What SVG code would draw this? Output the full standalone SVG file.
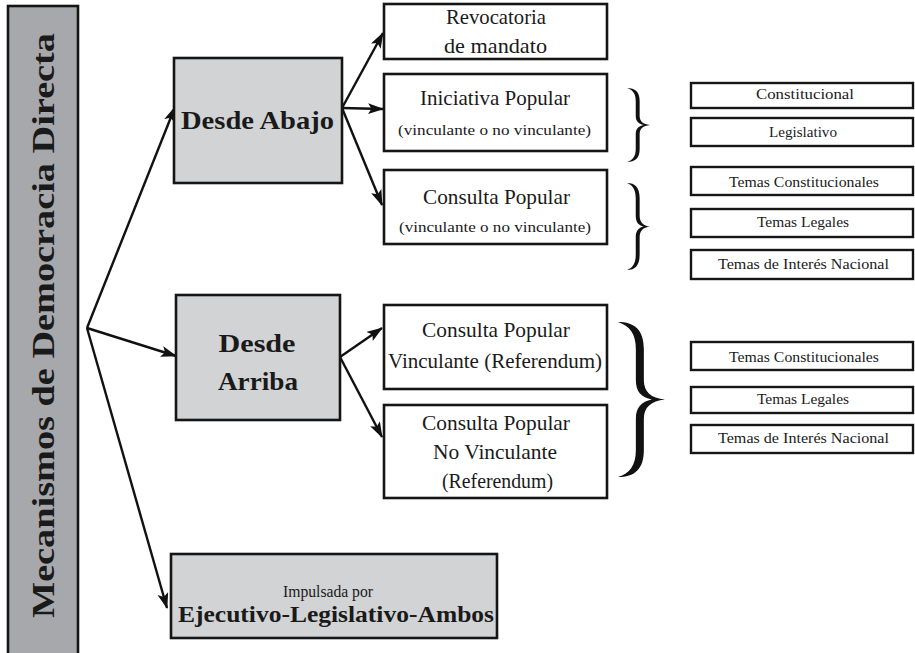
<svg xmlns="http://www.w3.org/2000/svg" width="915" height="653" viewBox="0 0 915 653">
<style>
.box{fill:#ffffff;stroke:#151515;stroke-width:2.6}
.gbox{fill:#d2d3d5;stroke:#151515;stroke-width:2.6}
.dbox{fill:#a7a8ab;stroke:#151515;stroke-width:2.6}
.sbox{fill:#ffffff;stroke:#151515;stroke-width:2.4}
text{font-family:"Liberation Serif","Times New Roman",serif}
.t{fill:#1a1a1a;text-anchor:middle}
.b{font-weight:bold;fill:#1a1a1a;text-anchor:middle}
.m{font-size:22px}
.s{font-size:15.5px}
.r{font-size:14px}
.c line{stroke:#111;stroke-width:2.4;marker-end:url(#ah)}
.brace{fill:#111}
</style>
<defs>
<marker id="ah" markerUnits="userSpaceOnUse" markerWidth="18" markerHeight="13" refX="15" refY="5.5" orient="auto">
<path d="M0,0 L16,5.5 L0,11 L3.5,5.5 z" fill="#111"/>
</marker>
<path id="br" d="M0,0 C0.35,0 0.55,0.1 0.55,0.35 L0.55,0.75 C0.55,0.9 0.7,0.98 1,1 C0.7,1.02 0.55,1.1 0.55,1.25 L0.55,1.65 C0.55,1.9 0.35,2 0,2 C0.25,1.95 0.38,1.85 0.38,1.65 L0.38,1.25 C0.38,1.1 0.5,1.03 0.72,1 C0.5,0.97 0.38,0.9 0.38,0.75 L0.38,0.35 C0.38,0.15 0.25,0.05 0,0 Z"/>
</defs>

<g id="mecanismos">
<rect class="dbox" x="8" y="6" width="70" height="652"/>
<text class="b" transform="translate(54,325.5) rotate(-90)" x="0" y="0" font-size="32" textLength="585" lengthAdjust="spacingAndGlyphs">Mecanismos de Democracia Directa</text>
</g>

<g id="connectors" class="c">
<line x1="87" y1="328" x2="175" y2="107"/>
<line x1="87" y1="328" x2="176" y2="356"/>
<line x1="87" y1="328" x2="167" y2="608"/>
<line x1="342" y1="108" x2="383" y2="33"/>
<line x1="342" y1="108" x2="383" y2="109"/>
<line x1="342" y1="108" x2="382" y2="205"/>
<line x1="340" y1="357" x2="382" y2="328"/>
<line x1="340" y1="357" x2="382" y2="437"/>
</g>

<g id="desde-abajo">
<rect class="gbox" x="174" y="58" width="168" height="125"/>
<text class="b" x="257.5" y="129" font-size="25" textLength="153" lengthAdjust="spacingAndGlyphs">Desde Abajo</text>
</g>

<g id="desde-arriba">
<rect class="gbox" x="176" y="295" width="164" height="125"/>
<text class="b" x="257" y="352" font-size="25" textLength="77" lengthAdjust="spacingAndGlyphs">Desde</text>
<text class="b" x="258" y="390" font-size="25" textLength="80" lengthAdjust="spacingAndGlyphs">Arriba</text>
</g>

<g id="impulsada">
<rect class="gbox" x="171" y="554" width="326" height="84"/>
<text class="t" x="328" y="597" font-size="16.5" textLength="90" lengthAdjust="spacingAndGlyphs">Impulsada por</text>
<text class="b" x="336" y="622" font-size="23" textLength="316" lengthAdjust="spacingAndGlyphs">Ejecutivo-Legislativo-Ambos</text>
</g>

<g id="revocatoria">
<rect class="box" x="384" y="4" width="223" height="55"/>
<text class="t m" x="496" y="24" textLength="100" lengthAdjust="spacingAndGlyphs">Revocatoria</text>
<text class="t m" x="495.5" y="53" textLength="103" lengthAdjust="spacingAndGlyphs">de mandato</text>
</g>

<g id="iniciativa">
<rect class="box" x="384" y="74" width="223" height="77"/>
<text class="t m" x="495" y="105" textLength="150" lengthAdjust="spacingAndGlyphs">Iniciativa Popular</text>
<text class="t s" x="494.5" y="135" textLength="193" lengthAdjust="spacingAndGlyphs">(vinculante o no vinculante)</text>
</g>

<g id="consulta">
<rect class="box" x="384" y="170" width="223" height="74"/>
<text class="t m" x="496.5" y="204" textLength="147" lengthAdjust="spacingAndGlyphs">Consulta Popular</text>
<text class="t s" x="495" y="232" textLength="192" lengthAdjust="spacingAndGlyphs">(vinculante o no vinculante)</text>
</g>

<g id="consulta-vinculante">
<rect class="box" x="384" y="305" width="223" height="84"/>
<text class="t m" x="496" y="337" textLength="148" lengthAdjust="spacingAndGlyphs">Consulta Popular</text>
<text class="t m" x="495" y="368" textLength="214" lengthAdjust="spacingAndGlyphs">Vinculante (Referendum)</text>
</g>

<g id="consulta-no-vinculante">
<rect class="box" x="384" y="405" width="223" height="93"/>
<text class="t m" x="496" y="430" textLength="148" lengthAdjust="spacingAndGlyphs">Consulta Popular</text>
<text class="t m" x="495" y="459" textLength="124" lengthAdjust="spacingAndGlyphs">No Vinculante</text>
<text class="t m" x="497.5" y="488" textLength="111" lengthAdjust="spacingAndGlyphs">(Referendum)</text>
</g>

<g id="braces">
<use href="#br" class="brace" transform="translate(627,88) scale(23,37)"/>
<use href="#br" class="brace" transform="translate(627,183) scale(23,43.5)"/>
<use href="#br" class="brace" transform="translate(618,322) scale(47,77.5)"/>
</g>

<g id="constitucional">
<rect class="sbox" x="691" y="83" width="222" height="25"/>
<text class="t r" x="805" y="99" textLength="98" lengthAdjust="spacingAndGlyphs">Constitucional</text>
</g>
<g id="legislativo">
<rect class="sbox" x="691" y="118" width="222" height="28"/>
<text class="t r" x="803" y="137" textLength="68" lengthAdjust="spacingAndGlyphs">Legislativo</text>
</g>
<g id="temas-constitucionales-1">
<rect class="sbox" x="691" y="167" width="222" height="28"/>
<text class="t r" x="804" y="187" textLength="150" lengthAdjust="spacingAndGlyphs">Temas Constitucionales</text>
</g>
<g id="temas-legales-1">
<rect class="sbox" x="691" y="209" width="222" height="28"/>
<text class="t r" x="803" y="227" textLength="92" lengthAdjust="spacingAndGlyphs">Temas Legales</text>
</g>
<g id="temas-interes-1">
<rect class="sbox" x="691" y="250" width="222" height="29"/>
<text class="t r" x="803.5" y="269" textLength="171" lengthAdjust="spacingAndGlyphs">Temas de Interés Nacional</text>
</g>
<g id="temas-constitucionales-2">
<rect class="sbox" x="691" y="342" width="222" height="28"/>
<text class="t r" x="804" y="362" textLength="150" lengthAdjust="spacingAndGlyphs">Temas Constitucionales</text>
</g>
<g id="temas-legales-2">
<rect class="sbox" x="691" y="387" width="222" height="26"/>
<text class="t r" x="803" y="404" textLength="92" lengthAdjust="spacingAndGlyphs">Temas Legales</text>
</g>
<g id="temas-interes-2">
<rect class="sbox" x="691" y="425" width="222" height="28"/>
<text class="t r" x="803.5" y="443" textLength="171" lengthAdjust="spacingAndGlyphs">Temas de Interés Nacional</text>
</g>
</svg>
